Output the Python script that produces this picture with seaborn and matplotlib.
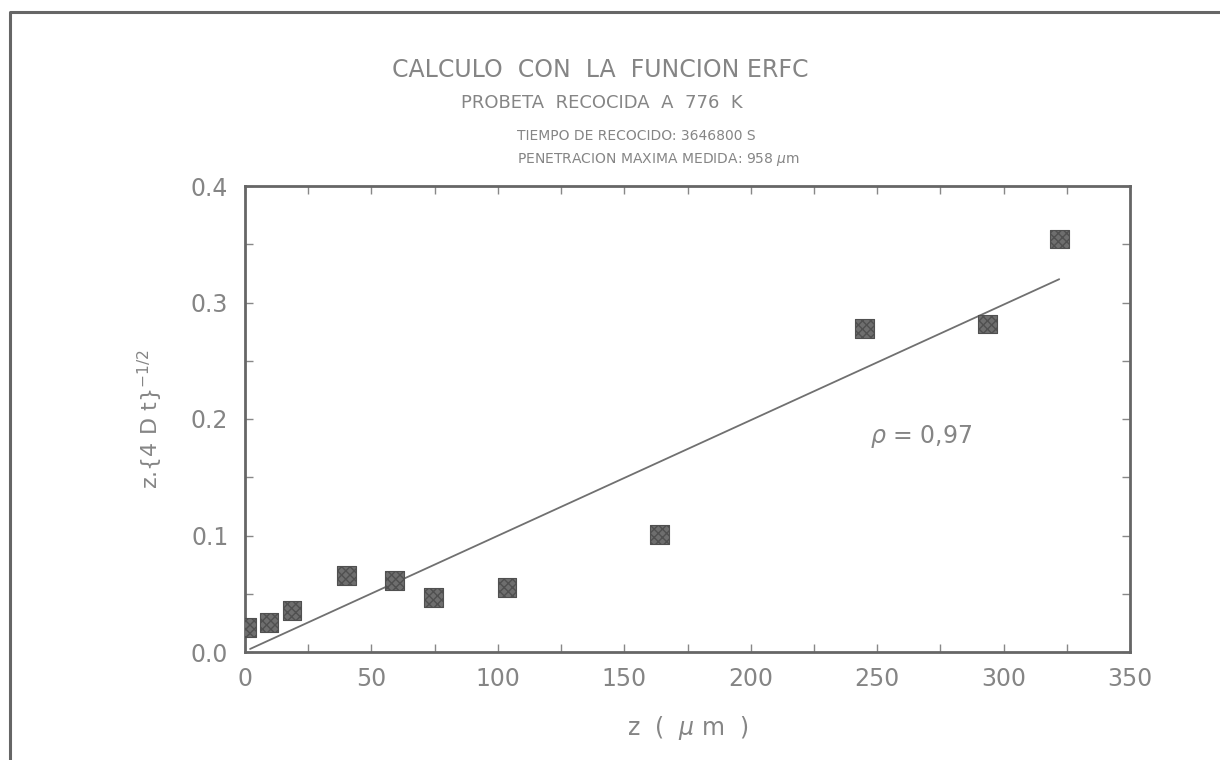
import matplotlib
matplotlib.use("Agg")
import matplotlib.pyplot as plt
from matplotlib.lines import Line2D
from matplotlib.ticker import MultipleLocator
import seaborn as sns
import pandas as pd

# Measured penetration profile
z_um = [0.5, 9.5, 18.6, 40.0, 59.0, 74.4, 103.6, 164.0, 245.0, 293.5, 322.0]
z_4dt = [0.021, 0.025, 0.036, 0.066, 0.061, 0.047, 0.055, 0.101, 0.278, 0.2815, 0.3545]

# Fitted straight line (end points)
fit_z = [2.0, 322.0]
fit_y = [0.0026, 0.320]

rho_text = r"$\rho$ = 0,97"
title_lines = [
    "CALCULO  CON  LA  FUNCION ERFC",
    "PROBETA  RECOCIDA  A  776  K",
    "TIEMPO DE RECOCIDO: 3646800 S",
    r"PENETRACION MAXIMA MEDIDA: 958 $\mu$m",
]
x_ticks = [0, 50, 100, 150, 200, 250, 300, 350]
y_ticks = [0.0, 0.1, 0.2, 0.3, 0.4]

sns.set_style("ticks")
plt.rcParams["font.family"] = ["DejaVu Sans"]
plt.rcParams["mathtext.fontset"] = "dejavusans"

TXT = "#858585"
AX = "#666666"
NARROW = ["Liberation Sans Narrow", "DejaVu Sans"]

fig = plt.figure(figsize=(12.2, 7.6), dpi=100)
ax = fig.add_axes([245 / 1220, 1 - 652 / 760, 885 / 1220, 466 / 760])

pts = pd.DataFrame({"z": z_um, "v": z_4dt})
fit = pd.DataFrame({"z": fit_z, "v": fit_y})

sns.lineplot(data=fit, x="z", y="v", ax=ax, color="#707070", linewidth=1.3)
sns.scatterplot(data=pts, x="z", y="v", ax=ax, marker="s", s=185,
                color="#6e6e6e", edgecolor="#505050", linewidth=0.8,
                hatch="xxxx", zorder=3)

ax.set_xlim(0, 350)
ax.set_ylim(0, 0.4)
ax.set_xticks(x_ticks)
ax.set_yticks(y_ticks)
ax.set_xticklabels([f"{v:d}" for v in x_ticks])
ax.set_yticklabels([f"{v:.1f}" for v in y_ticks])
ax.xaxis.set_minor_locator(MultipleLocator(25))
ax.yaxis.set_minor_locator(MultipleLocator(0.05))
ax.tick_params(which="both", direction="in", top=True, right=True,
               length=6, width=1, color="#888888")
ax.tick_params(which="major", labelsize=17, labelcolor=TXT)
ax.tick_params(axis="x", which="major", pad=11)
ax.tick_params(axis="y", which="major", pad=12)

for sp in ax.spines.values():
    sp.set_color(AX)
    sp.set_linewidth(2)

ax.set_xlabel(r"z  (  $\mu$ m  )", fontsize=17, color=TXT)
ax.set_ylabel(r"z.{4 D t}$^{-1/2}$", fontsize=16, color=TXT)
ax.xaxis.set_label_coords(0.5, -0.134)
ax.yaxis.set_label_coords(-0.09, 0.5)

ax.text(247, 0.185, rho_text, fontsize=17, color=TXT, va="center", ha="left")

fig.text(600 / 1220, 1 - 70 / 760, title_lines[0], fontsize=17, color=TXT,
         ha="center", va="center")
fig.text(602 / 1220, 1 - 103 / 760, title_lines[1], fontsize=13, color=TXT,
         ha="center", va="center")
fig.text(517 / 1220, 1 - 136 / 760, title_lines[2], fontsize=10, color=TXT,
         ha="left", va="center", family=NARROW)
fig.text(517 / 1220, 1 - 160 / 760, title_lines[3], fontsize=10, color=TXT,
         ha="left", va="center", family=NARROW)

# Page frame on the left and top edges
fig.add_artist(Line2D([10 / 1220, 10 / 1220, 1.0],
                      [0.0, 1 - 12 / 760, 1 - 12 / 760],
                      transform=fig.transFigure, color=AX, linewidth=2.2))

fig.savefig("out.png", dpi=100, facecolor="white")
